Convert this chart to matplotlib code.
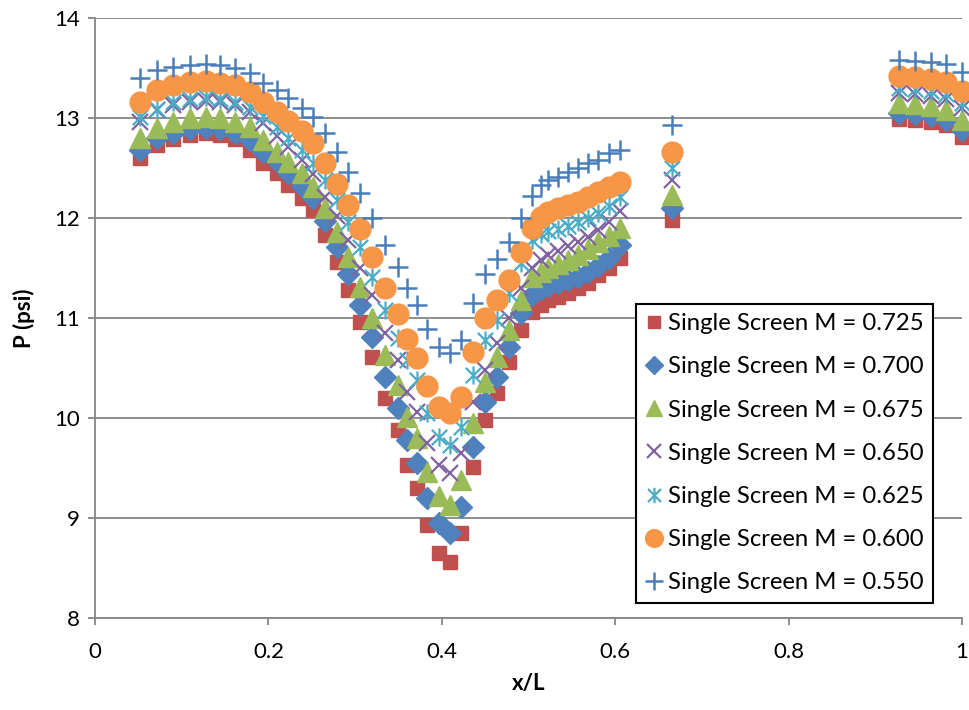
import matplotlib
matplotlib.use("Agg")
import matplotlib.pyplot as plt
from matplotlib.path import Path
import numpy as np

plt.rcParams['font.family'] = ['Lato', 'DejaVu Sans']

# x/L positions (main run of taps, isolated tap, aft group)
x_main = [0.0519, 0.0712, 0.0903, 0.1096, 0.1275, 0.1442, 0.1615, 0.1788, 0.1941,
          0.2096, 0.2230, 0.2384, 0.2518, 0.2653, 0.2788, 0.2922, 0.3057, 0.3191,
          0.3345, 0.3498, 0.3595, 0.3710, 0.3833, 0.3964, 0.4091, 0.4225, 0.4363,
          0.4504, 0.4637, 0.4775, 0.4911, 0.5040, 0.5142, 0.5228, 0.5340, 0.5456,
          0.5571, 0.5686, 0.5805, 0.5928, 0.6055]
x_iso = [0.6652]
x_aft = [0.927, 0.946, 0.964, 0.982, 1.0]

labels = ["Single Screen M = 0.725", "Single Screen M = 0.700",
          "Single Screen M = 0.675", "Single Screen M = 0.650",
          "Single Screen M = 0.625", "Single Screen M = 0.600",
          "Single Screen M = 0.550"]

p_0725 = [12.60, 12.73, 12.79, 12.83, 12.85, 12.83, 12.79, 12.68, 12.55, 12.45, 12.33,
          12.20, 12.08, 11.83, 11.56, 11.28, 10.96, 10.61, 10.20, 9.88, 9.53, 9.30, 8.93,
          8.65, 8.56, 8.85, 9.51, 9.98, 10.25, 10.56, 10.88, 11.06, 11.13, 11.18, 11.21,
          11.25, 11.30, 11.35, 11.43, 11.50, 11.60, 11.98, 12.99, 12.98, 12.96, 12.93, 12.81]
p_0700 = [12.68, 12.80, 12.85, 12.89, 12.90, 12.89, 12.85, 12.78, 12.66, 12.57, 12.45,
          12.32, 12.20, 11.97, 11.71, 11.44, 11.13, 10.81, 10.41, 10.10, 9.78, 9.55, 9.20,
          8.95, 8.85, 9.11, 9.71, 10.16, 10.41, 10.71, 11.05, 11.23, 11.29, 11.32, 11.35,
          11.38, 11.41, 11.46, 11.52, 11.60, 11.73, 12.10, 13.05, 13.04, 13.02, 12.98, 12.88]
p_0675 = [12.80, 12.90, 12.96, 13.00, 13.01, 13.00, 12.96, 12.91, 12.78, 12.66, 12.56,
          12.45, 12.31, 12.10, 11.86, 11.61, 11.31, 11.00, 10.63, 10.33, 10.01, 9.80, 9.46,
          9.22, 9.13, 9.38, 9.95, 10.36, 10.61, 10.88, 11.18, 11.41, 11.46, 11.50, 11.54,
          11.58, 11.63, 11.69, 11.76, 11.82, 11.90, 12.23, 13.15, 13.14, 13.12, 13.08, 12.98]
p_0650 = [12.96, 13.08, 13.13, 13.16, 13.17, 13.16, 13.13, 13.06, 12.95, 12.82, 12.71,
          12.58, 12.44, 12.21, 12.02, 11.78, 11.50, 11.23, 10.85, 10.58, 10.26, 10.06, 9.75,
          9.53, 9.45, 9.65, 10.16, 10.48, 10.75, 11.00, 11.30, 11.50, 11.58, 11.63, 11.67,
          11.72, 11.76, 11.81, 11.88, 11.96, 12.07, 12.38, 13.25, 13.24, 13.22, 13.19, 13.10]
p_0625 = [13.01, 13.09, 13.16, 13.19, 13.21, 13.19, 13.16, 13.11, 13.02, 12.91, 12.80,
          12.68, 12.55, 12.38, 12.18, 11.96, 11.71, 11.41, 11.08, 10.80, 10.58, 10.38, 10.05,
          9.81, 9.73, 9.91, 10.43, 10.78, 10.98, 11.25, 11.55, 11.78, 11.84, 11.87, 11.89,
          11.92, 11.96, 12.00, 12.05, 12.12, 12.21, 12.50, 13.30, 13.29, 13.27, 13.24, 13.15]
p_0600 = [13.16, 13.28, 13.33, 13.36, 13.37, 13.35, 13.33, 13.26, 13.16, 13.06, 12.97,
          12.87, 12.75, 12.55, 12.34, 12.13, 11.89, 11.61, 11.30, 11.04, 10.79, 10.60, 10.32,
          10.11, 10.05, 10.21, 10.66, 11.00, 11.18, 11.38, 11.66, 11.90, 12.01, 12.06, 12.10,
          12.13, 12.16, 12.21, 12.26, 12.31, 12.36, 12.66, 13.42, 13.41, 13.39, 13.36, 13.27]
p_0550 = [13.40, 13.48, 13.51, 13.53, 13.54, 13.53, 13.50, 13.45, 13.35, 13.28, 13.20,
          13.10, 13.01, 12.85, 12.66, 12.46, 12.25, 12.00, 11.73, 11.51, 11.30, 11.13, 10.89,
          10.71, 10.65, 10.78, 11.15, 11.44, 11.59, 11.76, 12.00, 12.22, 12.33, 12.38, 12.41,
          12.46, 12.50, 12.55, 12.58, 12.65, 12.68, 12.93, 13.58, 13.57, 13.56, 13.54, 13.46]

x_all = np.array(x_main + x_iso + x_aft)
series = [p_0725, p_0700, p_0675, p_0650, p_0625, p_0600, p_0550]

# asterisk marker (X with vertical bar)
ast = Path([(0, -1), (0, 1), (-0.85, -0.85), (0.85, 0.85), (-0.85, 0.85), (0.85, -0.85)],
           [Path.MOVETO, Path.LINETO] * 3)

styles = [
    dict(marker='s', ms=10, color='#C0504D', mec='#C0504D'),
    dict(marker='D', ms=11, color='#4F81BD', mec='#4F81BD'),
    dict(marker='^', ms=14, color='#9BBB59', mec='#9BBB59'),
    dict(marker='x', ms=12, color='#8064A2', mew=1.6),
    dict(marker=ast, ms=13, color='#4BACC6', mfc='none', mew=1.6),
    dict(marker='o', ms=15, color='#F79646', mec='#F79646'),
    dict(marker='+', ms=15, color='#4A7EBB', mew=1.8),
]

fig = plt.figure(figsize=(9.69, 7.10), dpi=100)
ax = fig.add_axes([95 / 969, 1 - 618 / 710, 867 / 969, 600 / 710])

for p, lab, st in zip(series, labels, styles):
    ax.plot(x_all, p, linestyle='none', label=lab, clip_on=False, **st)

ax.set_xlim(0, 1)
ax.set_ylim(8, 14)
ax.set_yticks(range(8, 15))
ax.set_xticks([0, 0.2, 0.4, 0.6, 0.8, 1.0])
ax.set_xticklabels(['0', '0.2', '0.4', '0.6', '0.8', '1'])
ax.yaxis.grid(True, color='#868686', linewidth=1.3)
ax.set_axisbelow(True)
for s in ['top', 'right']:
    ax.spines[s].set_visible(False)
for s in ['left', 'bottom']:
    ax.spines[s].set_color('#868686')
    ax.spines[s].set_linewidth(1.3)
ax.tick_params(axis='both', labelsize=16, colors='#868686', labelcolor='black',
               length=5, width=1.3, direction='out')
ax.tick_params(axis='x', pad=12)
ax.tick_params(axis='y', pad=6)

ax.set_xlabel('x/L', fontsize=16, fontweight='bold', labelpad=8)
ax.set_ylabel('P (psi)', fontsize=16, fontweight='bold', labelpad=14)

leg = ax.legend(loc='lower right', bbox_to_anchor=(0.9666, 0.025), fontsize=17.2,
                frameon=True, fancybox=False, borderpad=0.4, labelspacing=0.93,
                handlelength=0.7, handletextpad=0.25, borderaxespad=0,
                markerscale=0.85)
leg.get_frame().set_edgecolor('black')
leg.get_frame().set_linewidth(1.5)
leg.get_frame().set_alpha(1)

fig.savefig('out.png', dpi=100)
